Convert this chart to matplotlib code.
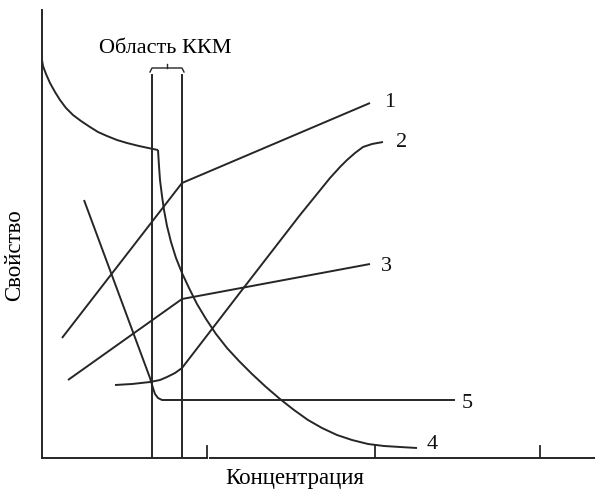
import matplotlib.pyplot as plt
import numpy as np

# curves (x: concentration, y: property, arbitrary units)
c1_x = [20, 140, 328]
c1_y = [120, 275, 355]

c2_x = [73, 90, 108, 118, 125, 133, 140, 200, 258, 288, 298, 305, 313, 321, 330, 341]
c2_y = [73, 74, 76, 78, 81, 85, 90, 168, 243, 280, 291, 298, 305, 311, 314, 316]

c3_x = [26, 140, 328]
c3_y = [78, 159, 194]

c4a_x = [0, 1, 4, 8, 13, 18, 24, 31, 39, 48, 56, 65, 75, 85, 97, 111, 116]
c4a_y = [398, 392, 384, 375, 366, 358, 350, 343, 337, 331, 326, 322, 318, 315, 312, 309, 308]
c4b_x = [116, 117, 118, 120, 122, 125, 129, 134, 140, 147, 155, 164, 174, 185, 197, 210,
         224, 238, 252, 266, 280, 295, 310, 326, 342, 358, 375]
c4b_y = [308, 292, 278, 262, 248, 232, 216, 200, 185, 170, 154, 139, 124, 110, 97, 84,
         71, 59, 48, 38, 30, 23, 18, 14, 12, 11, 10]

c5_x = [42, 108, 111, 113, 116, 120, 413]
c5_y = [258, 80, 70, 64, 60, 58, 58]

labels = ["1", "2", "3", "4", "5"]
label_x = [342, 354, 339, 385, 420]
label_y = [356, 316, 192, 14, 55]

cmc_lo, cmc_hi = 110, 140
tick_x = [165, 333, 498]

col = "#262626"
fig = plt.figure(figsize=(5.95, 4.9), dpi=100)
ax = fig.add_axes([42/595, 32/490, 553/595, 448/490])
ax.set_xlim(0, 553)
ax.set_ylim(0, 448)
ax.axis("off")

kw = dict(color=col, lw=1.4, solid_capstyle="butt", solid_joinstyle="round")
ax.plot(c1_x, c1_y, **kw)
ax.plot(c2_x, c2_y, **kw)
ax.plot(c3_x, c3_y, **kw)
ax.plot(c4a_x, c4a_y, **kw)
ax.plot(c4b_x, c4b_y, **kw)
ax.plot(c5_x, c5_y, **kw)

for lb, x, y in zip(labels, label_x, label_y):
	ax.text(x, y, lb, fontsize=16, family="Liberation Serif", va="center", ha="left", color="#111")

# axes
ax.plot([0, 0], [0, 448], color=col, lw=1.4, clip_on=False)
ax.plot([0, 165], [0, 0], color=col, lw=1.4, clip_on=False)
ax.plot([168, 553], [0, 0], color=col, lw=1.4, clip_on=False)
for t in tick_x:
	ax.plot([t, t], [0, 12], color=col, lw=1.3)

# cmc region
for x in (cmc_lo, cmc_hi):
	ax.plot([x, x], [0, 383], color=col, lw=1.4)
ax.plot([cmc_lo - 2, cmc_lo, cmc_hi, cmc_hi + 2], [386, 390, 390, 386], color=col, lw=1.0)
ax.plot([125, 125], [390, 394], color=col, lw=1.0)
ax.text(123, 410, "Область ККМ", fontsize=16, family="Liberation Serif", ha="center", va="center")

fig.text(295/595, 1 - 478/490, "Концентрация", fontsize=16.5, family="Liberation Serif", ha="center", va="center")
fig.text(15/595, 1 - 255/490, "Свойство", fontsize=16.5, family="Liberation Serif", ha="center", va="center", rotation=90)

fig.savefig("out.png", dpi=100)
